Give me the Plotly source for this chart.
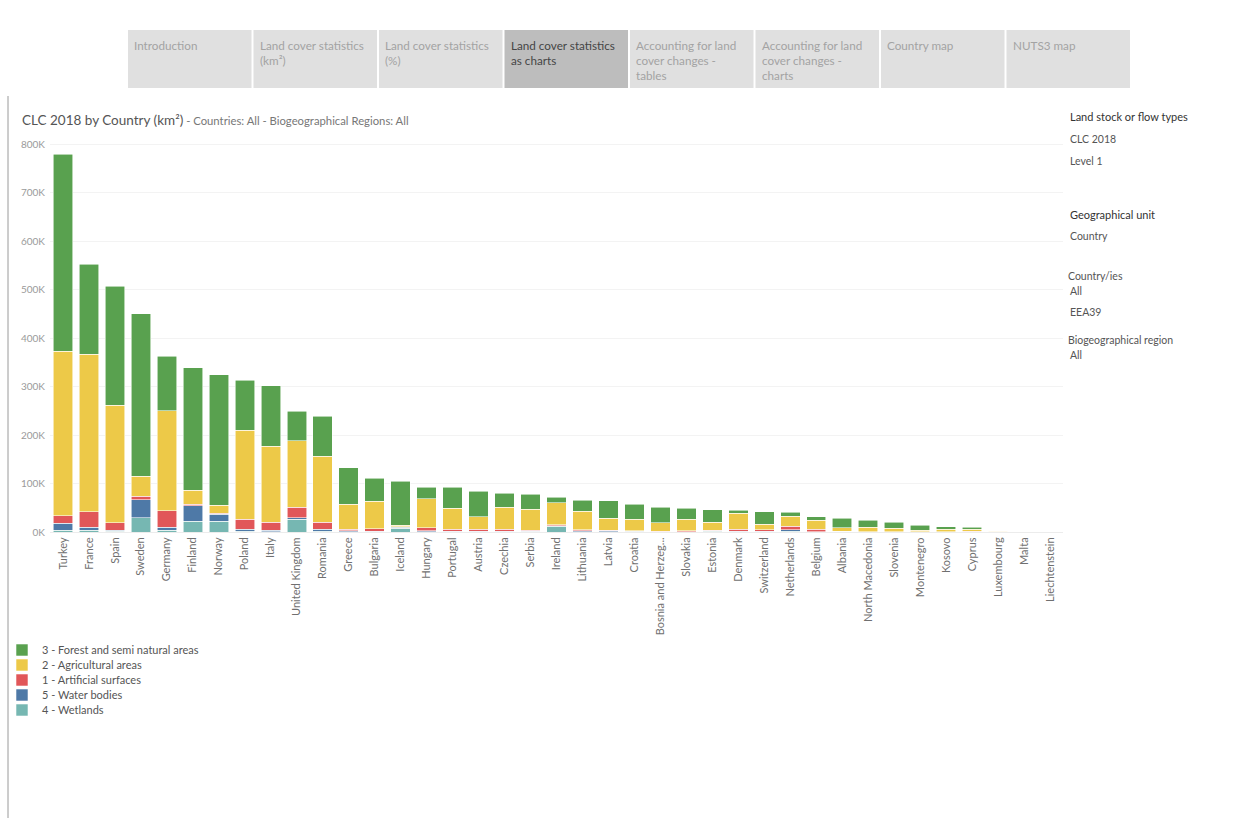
import plotly.graph_objects as go

countries = ["Turkey", "France", "Spain", "Sweden", "Germany", "Finland", "Norway", "Poland", "Italy",
             "United Kingdom", "Romania", "Greece", "Bulgaria", "Iceland", "Hungary", "Portugal", "Austria",
             "Czechia", "Serbia", "Ireland", "Lithuania", "Latvia", "Croatia", "Bosnia and Herzegovina",
             "Slovakia", "Estonia", "Denmark", "Switzerland", "Netherlands", "Belgium", "Albania",
             "North Macedonia", "Slovenia", "Montenegro", "Kosovo", "Cyprus", "Luxembourg", "Malta",
             "Liechtenstein"]
country_labels = ["Turkey", "France", "Spain", "Sweden", "Germany", "Finland", "Norway", "Poland", "Italy",
                  "United Kingdom", "Romania", "Greece", "Bulgaria", "Iceland", "Hungary", "Portugal", "Austria",
                  "Czechia", "Serbia", "Ireland", "Lithuania", "Latvia", "Croatia", "Bosnia and Herzeg...",
                  "Slovakia", "Estonia", "Denmark", "Switzerland", "Netherlands", "Belgium", "Albania",
                  "North Macedonia", "Slovenia", "Montenegro", "Kosovo", "Cyprus", "Luxembourg", "Malta",
                  "Liechtenstein"]

# km²
wetlands = [4000, 4000, 1500, 29500, 4000, 22700, 22000, 1500, 1000, 26000, 2000, 800, 500, 8000, 800, 500,
            300, 300, 400, 11500, 1000, 1000, 400, 200, 200, 1500, 500, 200, 1500, 100, 300, 50, 50, 100,
            20, 20, 5, 2, 1]
water = [14000, 5600, 2500, 37500, 5700, 31600, 14500, 4000, 3000, 3500, 4000, 1500, 1500, 2300, 1500, 1000,
         1200, 1000, 1000, 1500, 1500, 1500, 800, 400, 500, 1500, 1000, 1500, 3500, 300, 1000, 500, 100, 500,
         100, 50, 20, 1, 2]
artificial = [15600, 32300, 15200, 7000, 34300, 3400, 2000, 20500, 16600, 21500, 14600, 3000, 5000, 500, 6000,
              4000, 4000, 4200, 2700, 1800, 1700, 800, 1300, 800, 2000, 800, 4000, 3000, 7000, 5600, 500, 400,
              700, 200, 300, 1000, 300, 110, 20]
agricultural = [340000, 325000, 242000, 41000, 206000, 29000, 17000, 184000, 156500, 137000, 136000, 52500,
                56000, 3000, 60500, 44000, 26000, 45400, 42600, 45600, 38400, 25600, 23600, 17800, 24000, 16500,
                33000, 11800, 21000, 18700, 7100, 8700, 6800, 2600, 5000, 4500, 1400, 110, 50]
forest = [406000, 186000, 246000, 336000, 113000, 252000, 269500, 103000, 124700, 61500, 82500, 75000, 47500,
          90500, 24000, 43000, 52500, 29000, 31000, 11000, 23400, 35600, 30900, 31800, 22000, 25700, 6200,
          25400, 7600, 6900, 19300, 15100, 12400, 10400, 5500, 4100, 900, 95, 90]

series_names = ["4 - Wetlands", "5 - Water bodies", "1 - Artificial surfaces", "2 - Agricultural areas",
                "3 - Forest and semi natural areas"]
series_colors = ["#76B7B2", "#4E79A7", "#E15759", "#EDC948", "#59A14F"]

y_tick_values = [0, 100000, 200000, 300000, 400000, 500000, 600000, 700000, 800000]
y_tick_labels = ["0K", "100K", "200K", "300K", "400K", "500K", "600K", "700K", "800K"]

tabs = ["Introduction", "Land cover statistics<br>(km²)", "Land cover statistics<br>(%)",
        "Land cover statistics<br>as charts", "Accounting for land<br>cover changes -<br>tables",
        "Accounting for land<br>cover changes -<br>charts", "Country map", "NUTS3 map"]
selected_tab = 3

side_texts = [("Land stock or flow types", 1068, 116, "#333333", 11),
              ("CLC 2018", 1068, 139, "#555555", 10.5),
              ("Level 1", 1068, 161, "#555555", 10.5),
              ("Geographical unit", 1068, 214, "#333333", 11),
              ("Country", 1068, 236, "#555555", 10.5),
              ("Country/ies", 1066, 276, "#555555", 10.5),
              ("All", 1068, 291, "#555555", 10.5),
              ("EEA39", 1068, 312, "#555555", 10.5),
              ("Biogeographical region", 1066, 340, "#555555", 10.5),
              ("All", 1068, 355, "#555555", 10.5)]

W, H = 1248, 818
L, R, T, B = 50, 1063, 142, 532
YMAX = 805000


def px(x):
    return (x - L) / (R - L)


def py(y):
    return (B - y) / (B - T)


fig = go.Figure()
series_values = [wetlands, water, artificial, agricultural, forest]
legend_ids = ["legend5", "legend4", "legend3", "legend2", "legend"]
legend_rows = [710, 695, 680, 665, 650]
for name, color, vals, lid in zip(series_names, series_colors, series_values, legend_ids):
    fig.add_trace(go.Bar(
        x=countries, y=vals, name=name, legend=lid,
        marker=dict(color=color, line=dict(color="rgba(255,255,255,0.7)", width=0.8)),
    ))

legend_layouts = {}
for lid, row in zip(legend_ids, legend_rows):
    legend_layouts[lid] = dict(x=px(2), y=py(row), xanchor="left", yanchor="middle",
                               font=dict(family="Lato", size=11, color="#555555"),
                               bgcolor="rgba(0,0,0,0)", itemwidth=30, borderwidth=0)

shapes = []
annotations = []
tab_w, tab_gap, tab_x0 = 123.5, 2, 128
for i, t in enumerate(tabs):
    x0 = tab_x0 + i * (tab_w + tab_gap)
    x1 = x0 + tab_w
    shapes.append(dict(type="rect", xref="paper", yref="paper", x0=px(x0), x1=px(x1), y0=py(88), y1=py(30),
                       fillcolor="#bdbdbd" if i == selected_tab else "#e0e0e0", line=dict(width=0), layer="below"))
    annotations.append(dict(text=t, xref="paper", yref="paper", x=px(x0 + 4), y=py(36), xanchor="left",
                            yanchor="top", align="left", showarrow=False,
                            font=dict(family="Lato", size=11.7, color="#454545" if i == selected_tab else "#a3a3a3")))

shapes.append(dict(type="line", xref="paper", yref="paper", x0=px(8), x1=px(8), y0=py(96), y1=py(818),
                   line=dict(color="#9a9a9a", width=1)))

annotations.append(dict(
    text="CLC 2018 by Country (km²)<span style='font-size:11.3px;color:#777777'> - Countries: All - Biogeographical Regions: All</span>",
    xref="paper", yref="paper", x=px(20), y=py(120), xanchor="left", yanchor="middle", showarrow=False,
    font=dict(family="Lato", size=13.5, color="#555555")))

for text, x, y, color, size in side_texts:
    annotations.append(dict(text=text, xref="paper", yref="paper", x=px(x), y=py(y), xanchor="left",
                            yanchor="middle", showarrow=False, font=dict(family="Lato", size=size, color=color)))

fig.update_layout(
    width=W, height=H,
    margin=dict(l=L, r=W - R, t=T, b=H - B, pad=0, autoexpand=False),
    barmode="stack", bargap=0.25,
    plot_bgcolor="white", paper_bgcolor="white",
    font=dict(family="Lato", color="#666666"),
    showlegend=True,
    xaxis=dict(tickmode="array", tickvals=countries, ticktext=country_labels, tickangle=-90,
               tickfont=dict(family="Lato", size=11, color="#707070"), showgrid=False, ticks="",
               showline=True, linecolor="#ececec", linewidth=1),
    yaxis=dict(range=[0, YMAX], tickmode="array", tickvals=y_tick_values, ticktext=y_tick_labels,
               tickfont=dict(family="Lato", size=10, color="#9a9a9a"), showgrid=True, gridcolor="#f3f3f3",
               zeroline=False, ticks="", ticklabelstandoff=4),
    shapes=shapes, annotations=annotations,
    hovermode="closest",
    **legend_layouts,
)

fig.write_html("out.html", config={"displayModeBar": False},
               post_script="document.body.style.margin='0px';")
